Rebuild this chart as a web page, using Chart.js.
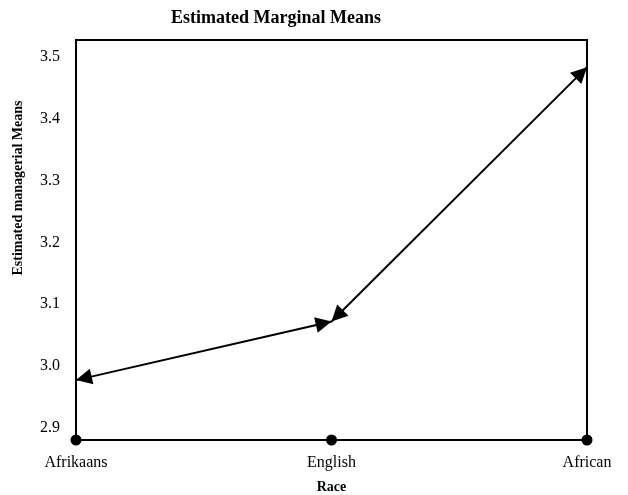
<!DOCTYPE html>
<html>
<head>
<meta charset="utf-8">
<script src="https://cdn.jsdelivr.net/npm/chart.js@4.4.1/dist/chart.umd.min.js"></script>
<style>
html,body{margin:0;padding:0;background:#fff;}
canvas{display:block;}
</style>
</head>
<body>
<canvas id="c" width="628" height="495"></canvas>
<script>
const categories = ['Afrikaans', 'English', 'African'];
const means = [2.977, 3.072, 3.484];
const yTicks = [2.9, 3.0, 3.1, 3.2, 3.3, 3.4, 3.5];
const yMin = 2.88;
const yMax = 3.528;
const chartTitle = 'Estimated Marginal Means';
const yTitle = 'Estimated managerial Means';
const xTitle = 'Race';

const SERIF = '"Liberation Serif", "Times New Roman", serif';

function arrowHead(ctx, from, to, len, half) {
  const ang = Math.atan2(to.y - from.y, to.x - from.x);
  ctx.save();
  ctx.translate(to.x, to.y);
  ctx.rotate(ang);
  ctx.beginPath();
  ctx.moveTo(0, 0);
  ctx.lineTo(-len, -half);
  ctx.lineTo(-len, half);
  ctx.closePath();
  ctx.fill();
  ctx.restore();
}

const decorations = {
  id: 'decorations',
  afterDraw(chart) {
    const ctx = chart.ctx;
    const a = chart.chartArea;
    ctx.save();
    ctx.strokeStyle = '#000';
    ctx.fillStyle = '#000';
    ctx.lineWidth = 2;
    ctx.strokeRect(a.left, a.top, a.right - a.left, a.bottom - a.top);

    // arrowheads at both ends of every segment
    const pts = chart.getDatasetMeta(0).data;
    for (let i = 0; i < pts.length - 1; i++) {
      const p0 = {x: pts[i].x, y: pts[i].y};
      const p1 = {x: pts[i + 1].x, y: pts[i + 1].y};
      arrowHead(ctx, p0, p1, 16, 8);
      arrowHead(ctx, p1, p0, 16, 8);
    }

    // dots on the category axis
    const xs = chart.scales.x;
    xs.ticks.forEach((t, i) => {
      const x = xs.getPixelForTick(i);
      ctx.beginPath();
      ctx.arc(x, a.bottom, 5.5, 0, Math.PI * 2);
      ctx.fill();
    });

    // titles
    ctx.textAlign = 'center';
    ctx.textBaseline = 'middle';
    ctx.font = 'bold 18px ' + SERIF;
    ctx.fillText(chartTitle, 276, 18);
    ctx.font = 'bold 14px ' + SERIF;
    ctx.fillText(xTitle, (a.left + a.right) / 2, 487);
    ctx.save();
    ctx.translate(18, 188);
    ctx.rotate(-Math.PI / 2);
    ctx.fillText(yTitle, 0, 0);
    ctx.restore();
    ctx.restore();
  }
};

new Chart(document.getElementById('c'), {
  type: 'line',
  data: {
    labels: categories,
    datasets: [{
      data: means,
      borderColor: '#000',
      borderWidth: 2,
      pointRadius: 0,
      tension: 0,
      fill: false
    }]
  },
  options: {
    responsive: false,
    animation: false,
    layout: {padding: {left: 0, right: 41, top: 40, bottom: 0}},
    plugins: {legend: {display: false}, tooltip: {enabled: false}, title: {display: false}},
    scales: {
      x: {
        type: 'category',
        offset: false,
        grid: {display: false, drawTicks: false},
        border: {display: false},
        ticks: {
          color: '#000',
          font: {family: SERIF, size: 16},
          padding: 13,
          maxRotation: 0,
          autoSkip: false
        },
        afterFit(s) { s.height = 55; }
      },
      y: {
        min: yMin,
        max: yMax,
        grid: {display: false, drawTicks: false},
        border: {display: false},
        afterBuildTicks(s) { s.ticks = yTicks.map(v => ({value: v})); },
        ticks: {
          color: '#000',
          font: {family: SERIF, size: 16},
          padding: 16,
          callback: v => Number(v).toFixed(1)
        },
        afterFit(s) { s.width = 76; }
      }
    }
  },
  plugins: [decorations]
});
</script>
</body>
</html>
